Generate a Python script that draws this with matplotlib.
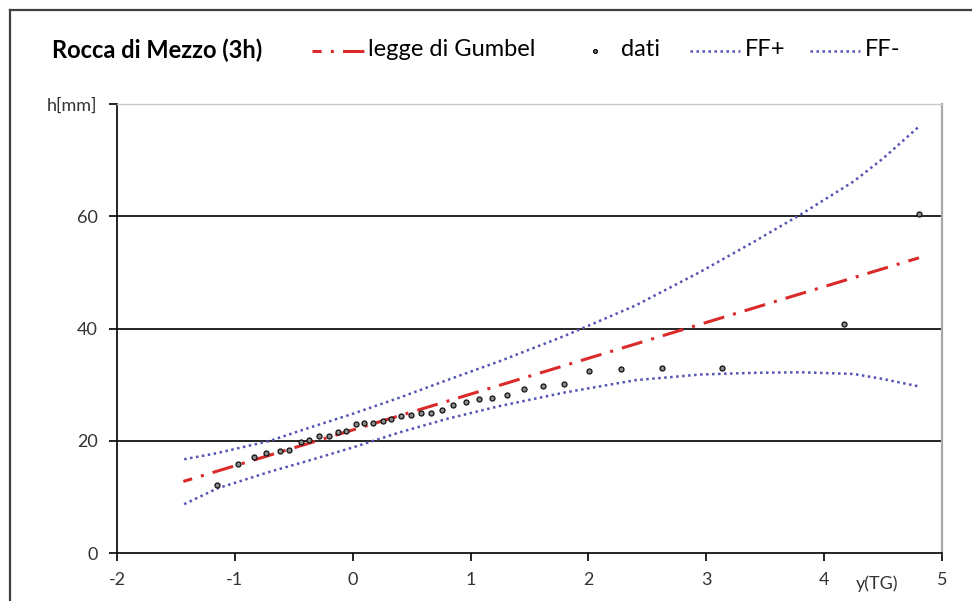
import matplotlib
matplotlib.use("Agg")
import matplotlib.pyplot as plt
from matplotlib.lines import Line2D

plt.rcParams['font.family'] = ['Lato', 'DejaVu Sans']

# Observed annual maxima (3h duration): reduced variate y and rainfall depth h [mm]
dati_y = [-1.154, -0.970, -0.837, -0.732, -0.619, -0.537, -0.438, -0.370, -0.286,
          -0.200, -0.127, -0.054, 0.028, 0.099, 0.175, 0.255, 0.325, 0.413, 0.495,
          0.580, 0.660, 0.758, 0.854, 0.962, 1.072, 1.179, 1.312, 1.457, 1.612,
          1.790, 2.008, 2.274, 2.620, 3.137, 4.170, 4.805]
dati_h = [12.05, 15.8, 17.1, 17.9, 18.2, 18.4, 19.8, 20.1, 20.8,
          20.8, 21.5, 21.8, 22.9, 23.1, 23.1, 23.6, 23.9, 24.4, 24.6,
          24.9, 24.9, 25.4, 26.4, 26.9, 27.4, 27.7, 28.1, 29.2, 29.7,
          30.2, 32.5, 32.7, 32.9, 32.9, 40.8, 60.35]

# Gumbel law (straight line in the reduced variate)
gumbel_y = [-1.437, 4.805]
gumbel_h = [12.75, 52.6]

# Confidence band limits
band_y = [-1.43, -1.15, -0.7, -0.4, 0.0, 0.4, 0.8, 1.25, 1.8, 2.4, 2.95,
          3.4, 3.8, 4.25, 4.5, 4.8]
ff_plus = [16.7, 17.8, 20.0, 22.1, 24.8, 27.7, 30.8, 34.2, 38.7, 44.1, 50.1,
           55.4, 60.3, 66.2, 70.3, 75.9]
ff_minus = [8.7, 11.5, 14.5, 16.3, 18.8, 21.5, 23.9, 26.2, 28.6, 30.8, 31.8,
            32.1, 32.2, 31.9, 31.0, 29.7]

x_ticks = [-2, -1, 0, 1, 2, 3, 4, 5]
y_ticks = [0, 20, 40, 60, 80]
y_tick_labels = ['0', '20', '40', '60', 'h[mm]']

W, H = 972, 601
fig = plt.figure(figsize=(W / 100, H / 100), dpi=100)
ax = fig.add_axes([117 / W, (H - 553) / H, 825 / W, 449 / H])

red = '#DA2A2A'
blue = '#5454B4'
ff_style = dict(color=blue, lw=1.8, linestyle=(0, (1, 1.4)))
gumbel_style = dict(color=red, lw=2.2, linestyle=(4, (7, 3, 1, 3)))
dati_style = dict(linestyle='none', marker='o', ms=3.6, mfc='#8a8a8a',
                  mec='#111111', mew=0.9)

ax.plot(band_y, ff_plus, **ff_style)
ax.plot(band_y, ff_minus, **ff_style)
ax.plot(gumbel_y, gumbel_h, **gumbel_style)
ax.plot(dati_y, dati_h, **dati_style)

for yv in (20, 40, 60):
    ax.axhline(yv, color='#000000', lw=1.2, zorder=0.5)

ax.set_xlim(-2, 5)
ax.set_ylim(0, 80)
ax.set_xticks(x_ticks)
ax.set_xticklabels([str(v) for v in x_ticks])
ax.set_yticks(y_ticks)
ax.set_yticklabels(y_tick_labels)
ax.tick_params(axis='both', direction='out', length=6, width=1.2, color='#000000',
               labelsize=13, labelcolor='#333333')
ax.tick_params(axis='x', pad=8)
ax.tick_params(axis='y', pad=8)

for side in ('left', 'bottom'):
    ax.spines[side].set_color('#000000')
    ax.spines[side].set_linewidth(1.2)
ax.spines['right'].set_color('#a8a8a8')
ax.spines['right'].set_linewidth(1.6)
ax.spines['top'].set_color('#c8c8c8')
ax.spines['top'].set_linewidth(1.0)

fig.text(877 / W, 1 - 584 / H, 'y(TG)', ha='center', va='center',
         fontsize=13, color='#333333')

# Outer chart frame
fig.add_artist(Line2D([10 / W, 10 / W], [0, 1 - 10 / H], transform=fig.transFigure,
                      color='#404040', lw=1.6))
fig.add_artist(Line2D([10 / W, 1], [1 - 10 / H, 1 - 10 / H], transform=fig.transFigure,
                      color='#404040', lw=1.6))

# Title and legend row
fig.text(52 / W, 1 - 50 / H, 'Rocca di Mezzo (3h)', ha='left', va='center',
         fontsize=17, fontweight='bold', color='#000000')


def legend_entry(x0, x1, label, style, tx):
    yy = 1 - 51 / H
    fig.add_artist(Line2D([x0 / W, x1 / W], [yy, yy], transform=fig.transFigure, **style))
    fig.text(tx / W, 1 - 50 / H, label, ha='left', va='center', fontsize=17,
             color='#000000')


legend_entry(312, 366, 'legge di Gumbel', gumbel_style, 368)
legend_entry(595, 595, 'dati', dict(dati_style, ms=2.6), 621)
legend_entry(690, 740, 'FF+', ff_style, 745)
legend_entry(810, 860, 'FF-', ff_style, 865)

fig.savefig('out.png', dpi=100)
